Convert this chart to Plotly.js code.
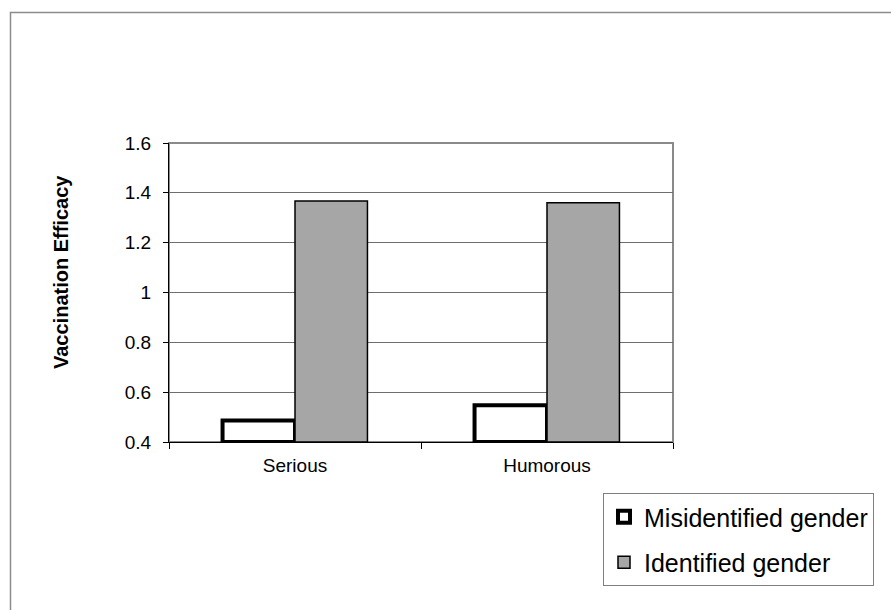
<!DOCTYPE html>
<html>
<head>
<meta charset="utf-8">
<script src="https://cdn.plot.ly/plotly-3.0.1.min.js"></script>
<style>html,body{margin:0;padding:0;background:#fff;}#chart{width:891px;height:610px;}</style>
</head>
<body>
<div id="chart"></div>
<script>
var categories = ["Serious", "Humorous"];
var misidentified = [0.486, 0.547];
var identified = [1.367, 1.360];
var seriesNames = ["Misidentified gender", "Identified gender"];
var yTitle = "Vaccination Efficacy";
var axisBase = 0.4;

var FONT = '"Liberation Sans", Arial, sans-serif';

var traces = [
  {
    type: "bar",
    name: seriesNames[0],
    x: categories,
    y: misidentified.map(function (v) { return v - axisBase; }),
    base: axisBase,
    legendgroup: "a",
    marker: { color: "#ffffff", line: { color: "#000000", width: 4 } },
    hoverinfo: "skip"
  },
  {
    type: "bar",
    name: seriesNames[1],
    x: categories,
    y: identified.map(function (v) { return v - axisBase; }),
    base: axisBase,
    legendgroup: "b",
    marker: { color: "#a6a6a6", line: { color: "#000000", width: 1.5 } },
    hoverinfo: "skip"
  }
];

var L = 169, R = 673, T = 143, B = 442, W = 891, H = 610;
var pw = R - L, ph = B - T;
function px(x) { return (x - L) / pw; }
function py(y) { return (B - y) / ph; }

var layout = {
  width: W,
  height: H,
  margin: { l: L, r: W - R, t: T, b: H - B, pad: 0 },
  paper_bgcolor: "#ffffff",
  plot_bgcolor: "#ffffff",
  font: { family: FONT, color: "#000000", size: 20 },
  showlegend: true,
  barmode: "group",
  bargap: 0.425,
  bargroupgap: 0,
  xaxis: {
    type: "category",
    showline: true,
    linecolor: "#000000",
    linewidth: 1,
    ticks: "outside",
    tickson: "boundaries",
    ticklen: 6,
    tickcolor: "#000000",
    tickfont: { family: FONT, size: 19, color: "#000000" },
    ticklabelstandoff: 6,
    showgrid: false,
    zeroline: false,
    fixedrange: true
  },
  yaxis: {
    range: [0.4, 1.6],
    tick0: 0.4,
    dtick: 0.2,
    showline: true,
    linecolor: "#000000",
    linewidth: 1,
    ticks: "outside",
    ticklen: 5,
    tickcolor: "#000000",
    tickfont: { family: FONT, size: 19, color: "#000000" },
    ticklabelstandoff: 8,
    showgrid: true,
    gridcolor: "#6e6e6e",
    gridwidth: 1,
    zeroline: false,
    fixedrange: true
  },
  legend: {
    x: px(603),
    y: py(493),
    xanchor: "left",
    yanchor: "top",
    bgcolor: "#ffffff",
    bordercolor: "#808080",
    borderwidth: 1,
    font: { family: FONT, size: 25, color: "#000000" },
    traceorder: "grouped",
    tracegroupgap: 10,
    itemclick: false,
    itemdoubleclick: false
  },
  annotations: [
    {
      text: "<b>" + yTitle + "</b>",
      xref: "paper",
      yref: "paper",
      x: px(61),
      y: py(272),
      xanchor: "center",
      yanchor: "middle",
      textangle: -90,
      showarrow: false,
      font: { family: FONT, size: 20, color: "#000000" }
    }
  ],
  shapes: [
    {
      type: "rect",
      xref: "paper",
      yref: "paper",
      x0: 0,
      x1: 1,
      y0: 0,
      y1: 1,
      line: { color: "#8a8a8a", width: 2 },
      layer: "below"
    },
    {
      type: "path",
      xref: "paper",
      yref: "paper",
      path: "M " + px(891) + " " + py(12.5) + " L " + px(10.5) + " " + py(12.5) + " L " + px(10.5) + " " + py(615),
      line: { color: "#8c8c8c", width: 1.5 },
      layer: "above"
    }
  ]
};

Plotly.newPlot("chart", traces, layout, { displayModeBar: false, staticPlot: true });
</script>
</body>
</html>
